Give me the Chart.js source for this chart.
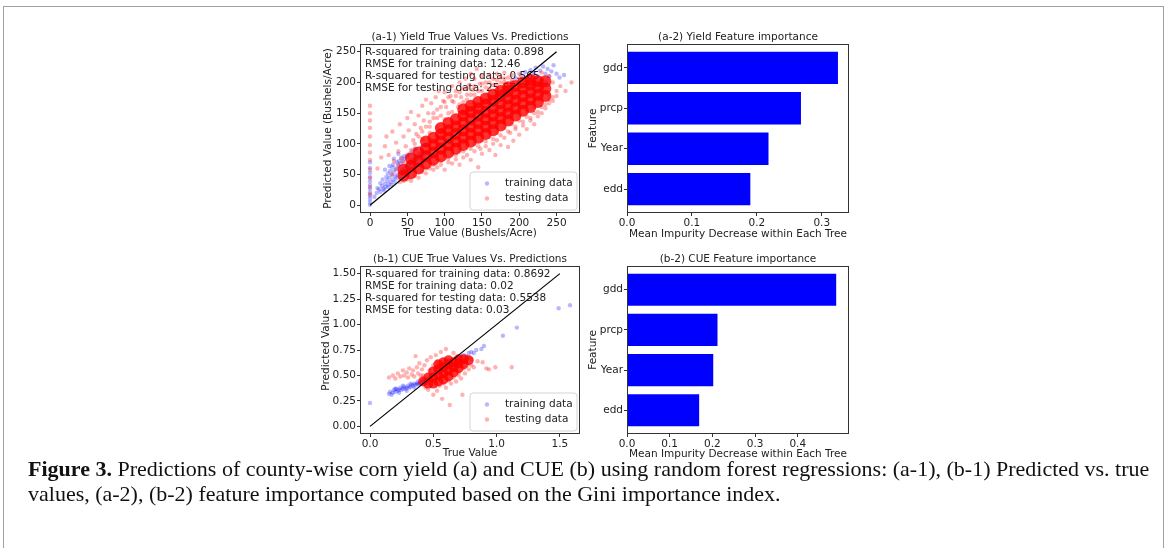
<!DOCTYPE html>
<html>
<head>
<meta charset="utf-8">
<script src="https://cdn.jsdelivr.net/npm/chart.js@4.4.1/dist/chart.umd.min.js"></script>
<style>
body { margin: 0; background: #fff; width: 1167px; height: 548px; overflow: hidden; position: relative; }
.frame { position: absolute; left: 3px; top: 6px; width: 1159px; height: 600px; border: 1px solid #a0a0a0; }
canvas { position: absolute; }
#cap { position: absolute; left: 28px; top: 456px; font-family: 'Liberation Serif', serif; font-size: 22px; line-height: 25px; color: #111; white-space: nowrap; }
</style>
</head>
<body>
<div class="frame"></div>
<canvas id="yieldScatter" width="290" height="225" style="left:300px;top:25px"></canvas>
<canvas id="yieldBars" width="280" height="225" style="left:580px;top:25px"></canvas>
<canvas id="cueScatter" width="290" height="225" style="left:300px;top:250px"></canvas>
<canvas id="cueBars" width="280" height="225" style="left:580px;top:250px"></canvas>
<div id="cap"><b>Figure 3.</b> Predictions of county-wise corn yield (a) and CUE (b) using random forest regressions: (a-1), (b-1) Predicted vs. true<br>values, (a-2), (b-2) feature importance computed based on the Gini importance index.</div>
<script>
// feature importance
const featureNames = ['gdd', 'prcp', 'Year', 'edd'];
const yieldImportance = [0.325, 0.268, 0.218, 0.19];
const cueImportance = [0.49, 0.212, 0.202, 0.169];

// 1:1 reference lines
const yieldLine = [[0, 0], [250, 250]];
const cueLine = [[0, 0], [1.5, 1.5]];

// yield (a-1): [true, predicted]
const yieldTraining = [
  [0,1],[0,6],[0,11],[0,16],[0,21],[0,27],[0,33],[0,39],[0,46],[0,53],[0,61],[0,70],
  [6,14],[9,20],[12,26],[14,22],[16,31],[18,27],[20,35],[21,30],[23,40],[25,34],[26,45],[28,38],
  [29,50],[31,42],[32,55],[34,47],[35,60],[37,50],[38,64],[40,54],[41,68],[43,58],[44,72],[46,61],
  [47,76],[49,64],[50,80],[52,67],[54,73],[56,70],[58,76],[60,73],[62,80],[64,77],[66,84],[68,81],
  [70,88],[30,62],[24,52],[36,70],[42,78],
  [10,28],[14,36],[17,42],[19,24],[22,46],[24,30],[27,56],[29,33],[31,66],[33,38],[36,44],[39,72],
  [41,46],[44,52],[46,80],[48,56],[51,60],[53,84],[55,64],[57,88],[59,68],[61,92],[63,72],[67,76],
  [69,94],[72,82],[74,98],[76,86],[20,58],[26,64],[32,76],[38,84],
  [90,96],[110,112],[130,128],[150,150],[170,168],
  [190,200],[195,207],[198,196],[202,212],[205,203],[208,217],[210,198],[212,210],[215,220],[218,206],
  [220,214],[222,224],[225,210],[228,219],[230,205],[232,226],[235,214],[238,222],[240,210],[243,218],
  [246,228],[250,214],[254,208],[260,212],[236,200],[226,198]
];
const yieldTesting = [
  [0,162],[0,150],[0,138],[0,126],[0,112],[0,98],[0,86],[0,74],[0,58],[0,44],[0,30],[0,18],
  [10,60],[15,78],[20,96],[22,112],[25,82],[30,120],[32,72],[35,102],[38,88],[40,132],[42,76],[45,112],
  [48,96],[50,142],[52,122],[55,152],[58,106],[60,132],[62,116],[65,146],[68,126],[70,162],[72,138],
  [75,172],[78,150],[80,128],[82,166],[85,142],[88,176],[90,156],[92,186],[95,146],[98,170],[100,184],
  [102,160],[105,150],[108,178],[110,194],[112,168],[115,186],[118,160],[120,200],[122,176],[125,190],
  [128,206],[130,180],[133,196],[135,214],[138,188],[140,206],[143,222],[147,198],[150,210],[155,200],
  [160,212],[165,206],[170,214],[175,208],[180,216],[190,212],[200,214],
  [40,38],[50,42],[55,40],[60,48],[65,45],[70,55],[75,52],[80,60],[85,58],[90,62],[95,66],[100,58],
  [105,70],[110,68],[115,75],[120,66],[125,78],[130,82],[135,74],[140,88],[145,62],[148,92],[150,84],
  [155,96],[160,90],[165,100],[168,82],[170,106],[175,98],[180,110],[185,95],[188,118],[192,105],
  [195,124],[200,115],[205,130],[210,124],[215,138],[220,132],[225,145],[230,150],[235,158],[240,166],
  [245,176],[250,186],[255,194],[262,186],[270,200],[245,200],[240,210],[230,216],
  [60,92],[70,108],[80,118],[90,128],[100,140],[110,152],[120,164],[130,172],[140,180],[150,186],
  [160,190],[170,196],[180,200],[190,204],[200,206],[210,208],[220,210],
  [70,62],[80,68],[90,74],[100,78],[110,84],[120,90],[130,96],[140,100],[150,106],[160,112],
  [170,118],[180,126],[190,132],[200,138],[210,144],[220,150],[230,160],[240,172],
  [30,50],[35,58],[38,66],[45,70],[50,82],[55,90],[60,100],[65,112],[70,120],[75,128],[80,136],
  [85,150],[90,142],[95,160],[100,168],[105,176],[110,170],[115,178],[120,184],[125,168],[130,190],
  [135,180],[140,194],[145,186],[150,198],[155,192],[160,200],[165,196],[170,204],[175,200],[180,206],
  [185,208],[190,196],
  [45,40],[60,55],[75,60],[85,66],[95,72],[105,76],[115,82],[125,88],[135,92],[145,96],[155,104],
  [165,108],[175,114],[185,120],[195,128],[205,136],[215,142],[225,152],[235,164],[245,170],[250,178],
  [240,180],[230,170],[220,160],[210,152],[200,146],[190,140],[180,134],[170,126],[160,120],[150,114],
  [140,108],[130,104],[120,98],[110,92],[100,86]
];
// dense middle of the testing cloud
const yieldTestingDense = [
  [45,48],[45,58],[55,52],[55,64],[55,76],[65,60],[65,72],[65,86],
  [75,68],[75,80],[75,92],[75,104],[85,74],[85,86],[85,98],[85,110],
  [95,80],[95,92],[95,104],[95,116],[95,126],[105,86],[105,98],[105,110],[105,122],[105,134],
  [115,92],[115,104],[115,116],[115,128],[115,140],
  [125,98],[125,110],[125,122],[125,134],[125,146],[125,156],
  [135,104],[135,116],[135,128],[135,140],[135,152],[135,162],
  [145,110],[145,122],[145,134],[145,146],[145,158],[145,168],
  [155,116],[155,128],[155,140],[155,152],[155,164],[155,174],
  [165,122],[165,134],[165,146],[165,158],[165,170],[165,180],
  [175,130],[175,142],[175,154],[175,166],[175,178],[175,186],
  [185,138],[185,150],[185,162],[185,174],[185,186],[185,192],
  [195,146],[195,158],[195,170],[195,182],[195,194],
  [205,154],[205,166],[205,178],[205,190],[205,200],
  [215,160],[215,172],[215,184],[215,196],[215,204],
  [225,168],[225,180],[225,192],[225,202],[235,178],[235,190],[235,202]
];

// CUE (b-1): [true, predicted]
const cueTraining = [
  [0.0,0.23],
  [0.15,0.32],[0.16,0.34],[0.18,0.33],[0.19,0.36],[0.2,0.34],[0.21,0.37],[0.22,0.35],[0.23,0.36],
  [0.24,0.38],[0.25,0.36],[0.26,0.37],[0.27,0.39],[0.28,0.37],[0.29,0.38],[0.3,0.4],[0.31,0.38],
  [0.32,0.39],[0.33,0.41],[0.34,0.4],[0.35,0.42],[0.36,0.41],[0.37,0.42],[0.38,0.44],[0.39,0.42],
  [0.4,0.43],[0.41,0.45],[0.42,0.44],[0.43,0.46],[0.45,0.45],[0.47,0.47],
  [0.17,0.31],[0.2,0.37],[0.23,0.33],[0.26,0.4],[0.29,0.35],[0.32,0.42],[0.35,0.38],[0.38,0.41],
  [0.62,0.6],[0.65,0.62],[0.68,0.66],[0.7,0.67],[0.72,0.69],[0.74,0.7],[0.76,0.69],[0.78,0.72],
  [0.8,0.73],[0.82,0.72],[0.84,0.75],[0.88,0.76],[0.9,0.79],[1.05,0.89],[1.16,0.97],[1.49,1.16],[1.58,1.19]
];
const cueTesting = [
  [0.15,0.48],[0.18,0.5],[0.2,0.47],[0.22,0.52],[0.24,0.49],[0.26,0.55],[0.27,0.5],[0.29,0.53],
  [0.3,0.48],[0.31,0.57],[0.33,0.51],[0.34,0.55],[0.35,0.49],[0.36,0.69],[0.37,0.58],[0.38,0.52],
  [0.39,0.62],[0.4,0.5],[0.41,0.56],[0.43,0.6],[0.44,0.38],[0.45,0.65],[0.46,0.36],[0.48,0.68],
  [0.5,0.31],[0.52,0.7],[0.53,0.35],[0.56,0.73],[0.57,0.27],[0.6,0.76],[0.6,0.38],[0.63,0.21],
  [0.64,0.42],[0.66,0.72],[0.68,0.44],[0.7,0.5],[0.72,0.47],[0.73,0.31],[0.75,0.52],[0.78,0.56],
  [0.8,0.6],[0.82,0.58],[0.85,0.64],[0.89,0.63],[0.92,0.57],[0.94,0.56],[0.99,0.58],[1.12,0.58],
  [0.42,0.5],[0.44,0.47],[0.47,0.55],[0.5,0.6],[0.53,0.63],[0.55,0.4],[0.58,0.42],[0.62,0.45],
  [0.66,0.48],[0.7,0.53],[0.74,0.57],[0.76,0.63],[0.78,0.68],[0.8,0.66]
];
const cueTestingDense = [
  [0.42,0.44],[0.46,0.42],[0.46,0.48],[0.5,0.42],[0.5,0.48],[0.5,0.54],
  [0.54,0.44],[0.54,0.5],[0.54,0.56],[0.54,0.61],[0.58,0.46],[0.58,0.52],[0.58,0.58],[0.58,0.63],
  [0.62,0.49],[0.62,0.55],[0.62,0.61],[0.62,0.65],[0.66,0.53],[0.66,0.58],[0.66,0.63],
  [0.7,0.57],[0.7,0.62],[0.7,0.66],[0.74,0.61],[0.74,0.66],[0.78,0.65]
];

const INK = '#222';
const FONT = "10.5px 'DejaVu Sans'";
const tickFont = { family: "'DejaVu Sans'", size: 10.5 };
const BLUE = 'rgba(0,0,255,0.28)';
const RED = 'rgba(255,0,0,0.3)';
const RED_DENSE = 'rgba(255,0,0,0.8)';

const pts = arr => arr.map(([x, y]) => ({ x, y }));

// title, notes, legend and the box round the plot
function decor(p) {
  return {
    id: 'decor',
    beforeDatasetsDraw(chart) {
      if (!p.notes) return;
      const { ctx, chartArea: a } = chart;
      ctx.save();
      ctx.font = FONT;
      ctx.fillStyle = INK;
      ctx.textBaseline = 'middle';
      p.notes.forEach((t, i) => ctx.fillText(t, a.left + 5, a.top + 8 + i * 12.2));
      ctx.restore();
    },
    afterDraw(chart) {
      const { ctx, chartArea: a } = chart;
      ctx.save();
      if (p.legend) {
        const w = 107, h = 38, x = a.right - 3 - w, y = a.bottom - 3 - h;
        ctx.beginPath();
        ctx.roundRect(x, y, w, h, 3);
        ctx.fillStyle = 'rgba(255,255,255,0.8)';
        ctx.fill();
        ctx.strokeStyle = '#d4d4d4';
        ctx.lineWidth = 1;
        ctx.stroke();
        ctx.font = FONT;
        ctx.textBaseline = 'middle';
        [['training data', BLUE], ['testing data', RED]].forEach(([t, c], i) => {
          const cy = y + 11.5 + i * 15;
          ctx.fillStyle = c;
          ctx.beginPath();
          ctx.arc(x + 17, cy, 2.2, 0, Math.PI * 2);
          ctx.fill();
          ctx.fillStyle = INK;
          ctx.fillText(t, x + 35, cy);
        });
      }
      ctx.strokeStyle = '#333';
      ctx.lineWidth = 1;
      ctx.strokeRect(Math.round(a.left) + 0.5, Math.round(a.top) + 0.5,
        Math.round(a.right - a.left) - 1, Math.round(a.bottom - a.top) - 1);
      ctx.font = FONT;
      ctx.fillStyle = INK;
      ctx.textAlign = 'center';
      ctx.textBaseline = 'middle';
      ctx.fillText(p.title, (a.left + a.right) / 2, a.top - 6.5);
      ctx.restore();
    }
  };
}

function axis(p) {
  const cfg = {
    type: 'linear',
    min: p.min,
    max: p.max,
    reverse: !!p.reverse,
    offset: false,
    afterFit: s => { if (p.height) s.height = p.height; if (p.width) s.width = p.width; },
    ticks: {
      stepSize: p.step, includeBounds: false, font: tickFont, color: INK, padding: 1,
      callback: p.fmt
    },
    grid: { offset: false, drawOnChartArea: false, tickLength: 3, color: '#333' },
    border: { display: false },
    title: { display: true, text: p.title, font: tickFont, color: INK, padding: p.pad }
  };
  if (p.keep) cfg.afterBuildTicks = s => { s.ticks = s.ticks.filter(t => t.value <= p.keep + 1e-9); };
  return cfg;
}

function scatterChart(id, p) {
  return new Chart(document.getElementById(id), {
    type: 'scatter',
    data: {
      datasets: [
        { type: 'line', data: pts(p.line), borderColor: '#000', borderWidth: 1.2, pointRadius: 0, showLine: true, order: 0 },
        { data: pts(p.dense), backgroundColor: RED_DENSE, pointRadius: p.denseR, borderWidth: 0, order: 1 },
        { label: 'testing data', data: pts(p.testing), backgroundColor: RED, pointRadius: 2.2, borderWidth: 0, order: 2 },
        { label: 'training data', data: pts(p.training), backgroundColor: BLUE, pointRadius: 2.2, borderWidth: 0, order: 3 }
      ]
    },
    options: {
      responsive: false,
      animation: false,
      layout: { padding: { top: p.top, right: 10, left: 0, bottom: 0 } },
      plugins: { legend: { display: false }, tooltip: { enabled: false } },
      scales: { x: axis(p.x), y: axis(p.y) }
    },
    plugins: [decor(p)]
  });
}

function barChart(id, p) {
  return new Chart(document.getElementById(id), {
    type: 'bar',
    data: {
      datasets: [{
        data: p.values.map((v, i) => ({ x: v, y: i })),
        backgroundColor: '#0000ff',
        borderWidth: 0,
        barPercentage: 1,
        categoryPercentage: 0.8
      }]
    },
    options: {
      indexAxis: 'y',
      responsive: false,
      animation: false,
      layout: { padding: { top: p.top, right: 11, left: 0, bottom: 0 } },
      plugins: { legend: { display: false }, tooltip: { enabled: false } },
      scales: {
        x: axis(p.x),
        y: axis({ min: -0.59, max: 3.59, reverse: true, step: 1, width: 47,
                  fmt: v => featureNames[v], title: 'Feature', pad: { top: 7 } })
      }
    },
    plugins: [decor(p)]
  });
}

scatterChart('yieldScatter', {
  title: '(a-1) Yield True Values Vs. Predictions',
  notes: ['R-squared for training data: 0.898', 'RMSE for training data: 12.46',
          'R-squared for testing data: 0.565', 'RMSE for testing data: 25.57'],
  legend: true,
  line: yieldLine, training: yieldTraining, testing: yieldTesting, dense: yieldTestingDense, denseR: 6,
  top: 19,
  x: { min: -13.4, max: 281.4, step: 50, height: 37, fmt: v => String(v),
       title: 'True Value (Bushels/Acre)', pad: { bottom: 10.7 } },
  y: { min: -12.5, max: 262.5, step: 50, width: 60, fmt: v => String(v),
       title: 'Predicted Value (Bushels/Acre)', pad: { top: 22 } }
});

scatterChart('cueScatter', {
  title: '(b-1) CUE True Values Vs. Predictions',
  notes: ['R-squared for training data: 0.8692', 'RMSE for training data: 0.02',
          'R-squared for testing data: 0.5538', 'RMSE for testing data: 0.03'],
  legend: true,
  line: cueLine, training: cueTraining, testing: cueTesting, dense: cueTestingDense, denseR: 5,
  top: 16,
  x: { min: -0.079, max: 1.659, step: 0.5, height: 41, fmt: v => v.toFixed(1),
       title: 'True Value', pad: { bottom: 15.5 } },
  y: { min: -0.075, max: 1.575, step: 0.25, width: 60, fmt: v => v.toFixed(2),
       title: 'Predicted Value', pad: { top: 20.4 } }
});

barChart('yieldBars', {
  title: '(a-2) Yield Feature importance',
  values: yieldImportance,
  top: 19,
  x: { min: 0, max: 0.342, step: 0.1, height: 37, fmt: v => v.toFixed(1),
       title: 'Mean Impurity Decrease within Each Tree', pad: { bottom: 9.4 } }
});

barChart('cueBars', {
  title: '(b-2) CUE Feature importance',
  values: cueImportance,
  top: 16,
  x: { min: 0, max: 0.52, step: 0.1, height: 41, keep: 0.4, fmt: v => v.toFixed(1),
       title: 'Mean Impurity Decrease within Each Tree', pad: { bottom: 14.5 } }
});
</script>
</body>
</html>
